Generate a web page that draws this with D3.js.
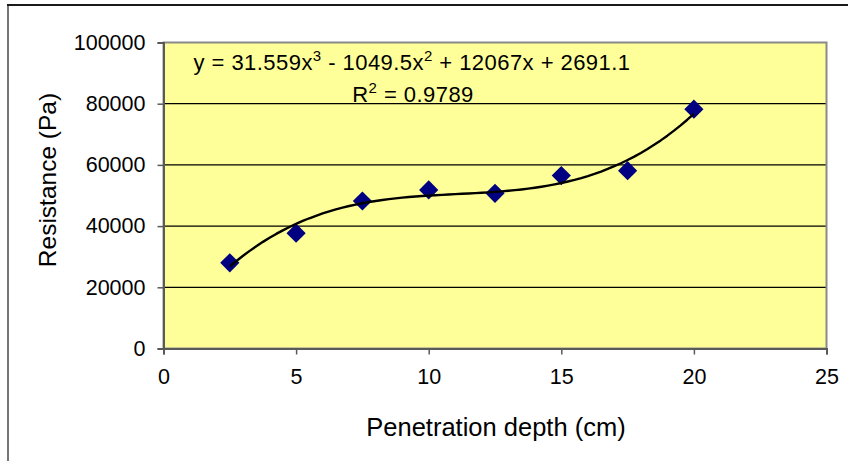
<!DOCTYPE html>
<html>
<head>
<meta charset="utf-8">
<script src="https://cdn.jsdelivr.net/npm/d3@7"></script>
<style>
  html, body { margin: 0; padding: 0; background: #fff; }
  svg { display: block; font-family: "Liberation Sans", Arial, sans-serif; }
</style>
</head>
<body>
<svg id="chart" width="848" height="461"></svg>
<script>
// Penetration test readings
const depthCm = [2.5, 5, 7.5, 10, 12.5, 15, 17.5, 20];
const resistancePa = [28000, 37700, 48200, 51800, 50700, 56500, 58100, 78200];

// Cubic trendline coefficients (x^3, x^2, x, constant) and its R²
const trendCoef = [31.559, -1049.5, 12067, 2691.1];
const trendR2 = "0.9789";

// Axis ticks
const xTicks = [0, 5, 10, 15, 20, 25];
const yTicks = [0, 20000, 40000, 60000, 80000, 100000];

const svg = d3.select("#chart");
const plot = { left: 163.5, right: 826.5, top: 42.5, bottom: 348.5 };

const x = d3.scaleLinear().domain([0, 25]).range([plot.left, plot.right]);
const y = d3.scaleLinear().domain([0, 100000]).range([plot.bottom, plot.top]);

// Outer chart frame (left and top edges)
svg.append("line").attr("x1", 8).attr("x2", 8).attr("y1", 5).attr("y2", 461)
  .attr("stroke", "#767676").attr("stroke-width", 2);
svg.append("line").attr("x1", 7).attr("x2", 848).attr("y1", 5).attr("y2", 5)
  .attr("stroke", "#1a1a1a").attr("stroke-width", 2);

// Plot area background
svg.append("rect")
  .attr("x", plot.left).attr("y", plot.top)
  .attr("width", plot.right - plot.left).attr("height", plot.bottom - plot.top)
  .attr("fill", "#FFFF99");

// Horizontal gridlines
svg.append("g").selectAll("line")
  .data(yTicks.filter(v => v > 0 && v < 100000))
  .join("line")
  .attr("x1", plot.left).attr("x2", plot.right)
  .attr("y1", d => y(d)).attr("y2", d => y(d))
  .attr("stroke", "#000").attr("stroke-width", 1.2);

// Plot area border
svg.append("rect")
  .attr("x", plot.left).attr("y", plot.top)
  .attr("width", plot.right - plot.left).attr("height", plot.bottom - plot.top)
  .attr("fill", "none").attr("stroke", "#8a8a8a").attr("stroke-width", 2);

// Axes
const yAxis = d3.axisLeft(y).tickValues(yTicks).tickSize(6).tickPadding(12)
  .tickFormat(d3.format("d"));
const xAxis = d3.axisBottom(x).tickValues(xTicks).tickSize(6).tickPadding(14)
  .tickFormat(d3.format("d"));

const gy = svg.append("g").attr("transform", `translate(${plot.left},0)`).call(yAxis);
const gx = svg.append("g").attr("transform", `translate(0,${plot.bottom})`).call(xAxis);

[gx, gy].forEach(g => {
  g.select(".domain").attr("stroke", "#5a5a5a").attr("stroke-width", 2);
  g.selectAll(".tick line").attr("stroke", "#5a5a5a").attr("stroke-width", 1.5);
  g.selectAll(".tick text")
    .attr("fill", "#000")
    .style("font-family", "'Liberation Sans', Arial, sans-serif")
    .style("font-size", "21.5px");
});

// Data markers (navy diamonds)
const diamond = d3.symbol().type(d3.symbolSquare).size(185);
svg.append("g").selectAll("path")
  .data(depthCm.map((d, i) => [d, resistancePa[i]]))
  .join("path")
  .attr("d", diamond)
  .attr("transform", d => `translate(${x(d[0])},${y(d[1])}) rotate(45)`)
  .attr("fill", "#000080");

// Polynomial trendline over the measured range
const poly = v => trendCoef[0] * v ** 3 + trendCoef[1] * v ** 2 + trendCoef[2] * v + trendCoef[3];
const trendX = d3.range(depthCm[0], depthCm[depthCm.length - 1] + 0.001, 0.25);
svg.append("path")
  .datum(trendX)
  .attr("d", d3.line().x(v => x(v)).y(v => y(poly(v))))
  .attr("fill", "none")
  .attr("stroke", "#000")
  .attr("stroke-width", 2.4)
  .attr("stroke-linejoin", "round");

// Trendline equation and R²
const eq = svg.append("text")
  .attr("x", 412).attr("y", 70)
  .attr("text-anchor", "middle")
  .style("font-size", "22px")
  .style("letter-spacing", "0.45px")
  .attr("fill", "#000");
eq.append("tspan").text(`y = ${trendCoef[0]}x`);
eq.append("tspan").attr("dy", -9).style("font-size", "15px").text("3");
eq.append("tspan").attr("dy", 9).text(` - ${Math.abs(trendCoef[1])}x`);
eq.append("tspan").attr("dy", -9).style("font-size", "15px").text("2");
eq.append("tspan").attr("dy", 9).text(` + ${trendCoef[2]}x + ${trendCoef[3]}`);

const r2 = svg.append("text")
  .attr("x", 413).attr("y", 102)
  .attr("text-anchor", "middle")
  .style("font-size", "22px")
  .style("letter-spacing", "0.45px")
  .attr("fill", "#000");
r2.append("tspan").text("R");
r2.append("tspan").attr("dy", -9).style("font-size", "15px").text("2");
r2.append("tspan").attr("dy", 9).text(` = ${trendR2}`);

// Axis titles
svg.append("text")
  .attr("x", (plot.left + plot.right) / 2 + 1).attr("y", 436)
  .attr("text-anchor", "middle")
  .style("font-size", "25.5px")
  .text("Penetration depth (cm)");

svg.append("text")
  .attr("transform", "translate(56,180) rotate(-90)")
  .attr("text-anchor", "middle")
  .style("font-size", "24.5px")
  .text("Resistance (Pa)");
</script>
</body>
</html>
